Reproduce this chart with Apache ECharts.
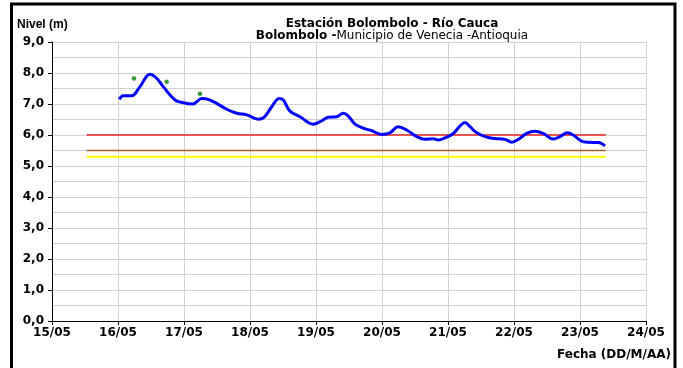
<!DOCTYPE html>
<html>
<head>
<meta charset="utf-8">
<script src="https://cdn.jsdelivr.net/npm/echarts@6/dist/echarts.min.js"></script>
<style>
html,body{margin:0;padding:0;background:#fff;}
#c{width:683px;height:368px;}
</style>
</head>
<body>
<div id="c"></div>
<script>
// x values are days after 15/05 00:00
var tickLabels = ['15/05','16/05','17/05','18/05','19/05','20/05','21/05','22/05','23/05','24/05'];
var levelDays = [1.020,1.080,1.208,1.333,1.485,1.586,1.686,1.864,1.989,2.132,2.192,2.268,2.368,2.495,2.647,2.798,2.950,3.126,3.212,3.329,3.444,3.505,3.606,3.758,3.959,4.061,4.186,4.314,4.414,4.489,4.591,4.717,4.844,4.995,5.121,5.247,5.374,5.526,5.652,5.777,5.853,5.955,6.080,6.182,6.258,6.333,6.435,6.586,6.712,6.864,6.965,7.065,7.192,7.318,7.444,7.595,7.697,7.808,7.898,8.050,8.202,8.277,8.379];
var levelValues = [7.15,7.27,7.27,7.56,7.96,7.83,7.56,7.13,7.04,7.00,7.07,7.18,7.15,7.02,6.83,6.70,6.65,6.51,6.57,6.91,7.18,7.13,6.77,6.59,6.35,6.43,6.57,6.59,6.70,6.61,6.35,6.22,6.14,6.02,6.07,6.27,6.16,5.95,5.86,5.88,5.84,5.91,6.05,6.29,6.40,6.27,6.07,5.93,5.89,5.86,5.77,5.86,6.05,6.12,6.05,5.87,5.95,6.07,6.00,5.78,5.76,5.76,5.65];
var pointDays = [1.242,1.737,2.242];
var pointValues = [7.82,7.72,7.33];
var thresholdDays = [0.525,8.39];
var redLevel = 6.0;
var brownLevel = 5.5;
var yellowLevel = 5.3;

function pairs(xs, ys){ return xs.map(function(x,i){ return [x, ys[i]]; }); }
function flat(xs, v){ return xs.map(function(x){ return [x, v]; }); }

var chart = echarts.init(document.getElementById('c'), null, {renderer:'canvas'});
var F = 'DejaVu Sans';
var FL = 'Liberation Sans';
chart.setOption({
  animation:false,
  backgroundColor:'#fff',
  title:{
    text:'Estación Bolombolo - Río Cauca',
    subtext:'{b|Bolombolo -}{n|Municipio de Venecia -Antioquia}',
    left:387, top:13, textAlign:'center', itemGap:0,
    textStyle:{fontFamily:F,fontSize:12,fontWeight:'bold',color:'#000',lineHeight:12},
    subtextStyle:{fontFamily:F,fontSize:12,color:'#000',lineHeight:12,
      rich:{b:{fontFamily:F,fontSize:12,fontWeight:'bold',color:'#000',lineHeight:12},n:{fontFamily:F,fontSize:12,color:'#000',lineHeight:12}}}
  },
  grid:{left:52,right:37,top:42,bottom:47,containLabel:false},
  xAxis:{
    type:'value',min:0,max:9,interval:1,
    axisLine:{show:true,onZero:false,lineStyle:{color:'#000',width:1}},
    axisTick:{show:true,length:4,lineStyle:{color:'#000'}},
    axisLabel:{fontFamily:F,fontSize:12,fontWeight:'bold',color:'#000',margin:6,
      formatter:function(v){ return tickLabels[Math.round(v)]; }},
    splitLine:{show:true,lineStyle:{color:'#d0d0d0',width:1}}
  },
  yAxis:{
    type:'value',min:0,max:9,interval:1,
    axisLine:{show:true,lineStyle:{color:'#000',width:1}},
    axisTick:{show:true,length:4,lineStyle:{color:'#000'}},
    axisLabel:{fontFamily:F,fontSize:12,fontWeight:'bold',color:'#000',margin:8,
      formatter:function(v){ return v.toFixed(1).replace('.',','); }},
    splitLine:{show:true,lineStyle:{color:'#d0d0d0',width:1}},
    minorTick:{show:false,splitNumber:2},
    minorSplitLine:{show:true,lineStyle:{color:'#d0d0d0',width:1}}
  },
  graphic:[
    {type:'rect',shape:{x:11.5,y:4,width:663.5,height:370},style:{fill:null,stroke:'#000',lineWidth:3},silent:true,z:100},
    {type:'text',x:17,y:25,style:{text:'Nivel (m)',fontFamily:FL,fontSize:12,fontWeight:'bold',fill:'#000',textVerticalAlign:'middle'}},
    {type:'text',x:671,y:355,style:{text:'Fecha (DD/M/AA)',fontFamily:F,fontSize:12,fontWeight:'bold',fill:'#000',textAlign:'right',textVerticalAlign:'middle'}}
  ],
  series:[
    {type:'line',data:flat(thresholdDays,yellowLevel),symbol:'none',lineStyle:{color:'#ffff00',width:2},silent:true},
    {type:'line',data:flat(thresholdDays,brownLevel),symbol:'none',lineStyle:{color:'#a0602a',width:1.5},silent:true},
    {type:'line',data:flat(thresholdDays,redLevel),symbol:'none',lineStyle:{color:'#e85454',width:2},silent:true},
    {type:'line',data:pairs(levelDays,levelValues),symbol:'none',smooth:0.4,lineStyle:{color:'#0000ff',width:3},silent:true},
    {type:'scatter',data:pairs(pointDays,pointValues),symbol:'circle',symbolSize:4.5,itemStyle:{color:'#008000'},silent:true}
  ]
});
</script>
</body>
</html>
